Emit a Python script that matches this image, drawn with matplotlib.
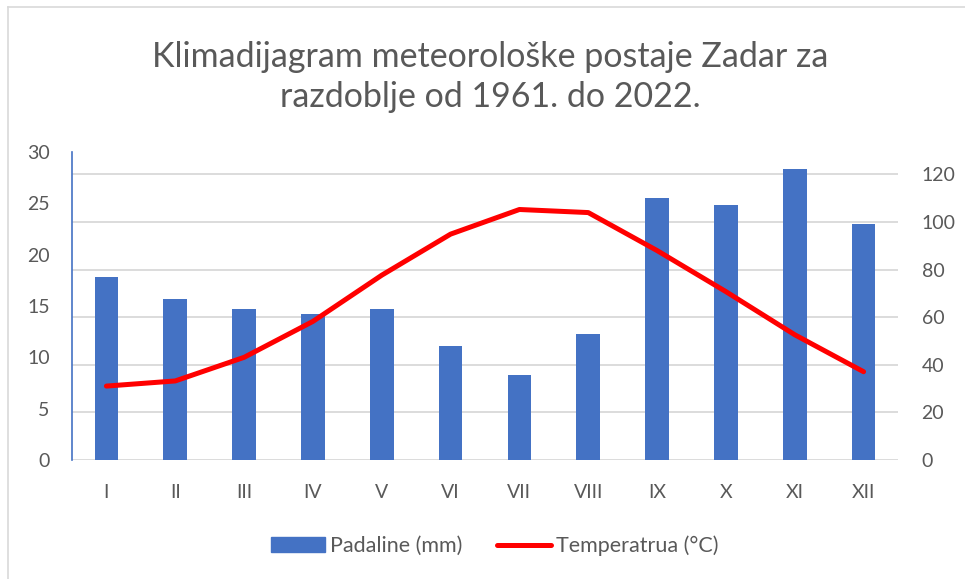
import matplotlib.pyplot as plt
from matplotlib.lines import Line2D
import numpy as np

plt.rcParams['font.family'] = ['Lato', 'DejaVu Sans']

mjeseci = ["I", "II", "III", "IV", "V", "VI", "VII", "VIII", "IX", "X", "XI", "XII"]
padaline = [77.0, 67.5, 63.4, 61.3, 63.4, 48.0, 35.7, 52.8, 110.0, 107.0, 122.1, 99.2]
temperatura = [7.2, 7.7, 10.0, 13.5, 18.0, 22.0, 24.4, 24.1, 20.4, 16.4, 12.2, 8.6]

siva = "#595959"
plava = "#4472C4"
crvena = "#FF0000"

fig = plt.figure(figsize=(9.65, 5.79), dpi=100)
ax = fig.add_axes([72/965, 1-460/579, 826/965, 308/579])
ax2 = ax.twinx()

x = np.arange(len(mjeseci))

# padaline na desnoj osi
ax2.bar(x, padaline, width=0.345, color=plava, zorder=2)
ax2.set_ylim(0, 129.4)
ax2.set_yticks(np.arange(0, 121, 20))
ax2.yaxis.grid(True, color="#D9D9D9", linewidth=1.3, zorder=0)
ax2.set_axisbelow(True)

# temperatura na lijevoj osi
ax.plot(x, temperatura, color=crvena, linewidth=3.6, solid_capstyle="round", zorder=3)
ax.set_ylim(0, 30)
ax.set_yticks(np.arange(0, 31, 5))
ax.set_xlim(-0.5, 11.5)
ax.set_xticks(x)
ax.set_xticklabels(mjeseci)
ax.set_zorder(ax2.get_zorder() + 1)
ax.patch.set_visible(False)

for a in (ax, ax2):
    for s in a.spines.values():
        s.set_visible(False)
    a.tick_params(length=0, labelsize=14, labelcolor=siva)
ax.spines['left'].set_visible(True)
ax.spines['left'].set_color(plava)
ax.spines['left'].set_linewidth(1.2)
ax.tick_params(axis='y', pad=16)
ax.tick_params(axis='x', pad=17)
ax2.tick_params(axis='y', pad=17)

fig.text(0.508, 1-77/579, "Klimadijagram meteorološke postaje Zadar za\nrazdoblje od 1961. do 2022.",
         ha="center", va="center", fontsize=24.5, color=siva, linespacing=1.33)

rucke = [plt.Rectangle((0, 0), 1, 1, color=plava), Line2D([0], [0], color=crvena, linewidth=3.6, solid_capstyle="round")]
fig.legend(rucke, ["Padaline (mm)", "Temperatrua (°C)"], loc="center", bbox_to_anchor=(495/965, 1-546/579),
           ncol=2, frameon=False, fontsize=15.5, labelcolor=siva, handlelength=2.5, handletextpad=0.25,
           columnspacing=1.6)

# okvir
fig.add_artist(Line2D([8/965, 1], [1-7/579, 1-7/579], color="#D9D9D9", linewidth=1.2))
fig.add_artist(Line2D([8/965, 8/965], [0, 1-7/579], color="#D9D9D9", linewidth=1.2))

fig.savefig("out.png", dpi=100)
